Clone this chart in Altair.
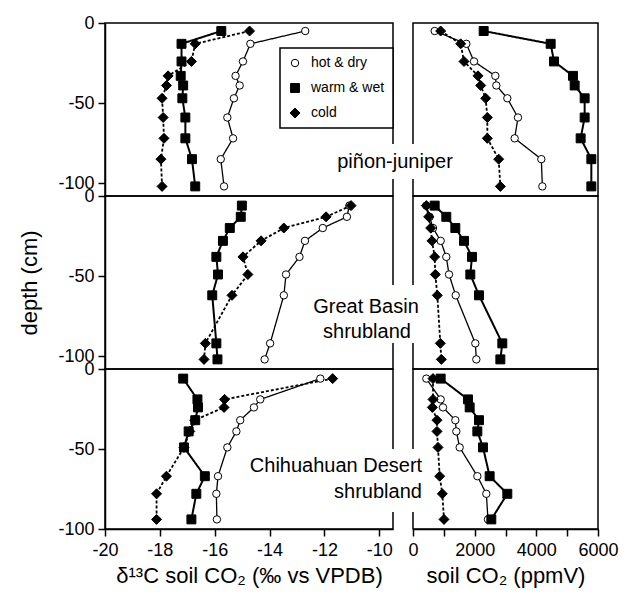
import altair as alt
import pandas as pd

SERIES = ["hot & dry", "warm & wet", "cold"]

# piñon-juniper
pj_depth = [-5, -13, -24, -33, -39, -47, -59, -72, -85, -102]
pj_d13c_hot = [-12.7, -14.7, -14.97, -15.24, -15.09, -15.3, -15.54, -15.33, -15.78, -15.66]
pj_d13c_warm = [-15.76, -17.21, -17.21, -17.24, -17.15, -17.18, -17.07, -17.07, -16.83, -16.71]
pj_d13c_cold = [-14.73, -16.71, -16.85, -17.70, -17.76, -17.92, -17.88, -17.85, -17.96, -17.92]
pj_co2_hot = [703, 1730, 1978, 2670, 2703, 3059, 3405, 3297, 4162, 4195]
pj_co2_warm = [2292, 4465, 4573, 5189, 5243, 5567, 5567, 5437, 5784, 5784]
pj_co2_cold = [897, 1546, 1654, 2108, 2195, 2357, 2411, 2411, 2779, 2833]

# Great Basin shrubland
gb_depth = [-6, -13, -20, -28, -38, -49, -62, -92, -102]
gb_d13c_hot = [-11.09, -11.18, -12.06, -12.71, -12.91, -13.40, -13.48, -13.98, -14.18]
gb_d13c_warm = [-15.01, -15.05, -15.45, -15.70, -15.94, -15.88, -16.09, -15.94, -15.90]
gb_d13c_cold = [-11.03, -11.94, -13.48, -14.31, -14.97, -14.79, -15.37, -16.34, -16.39]
gb_co2_hot = [432, 541, 649, 897, 1080, 1168, 1385, 2021, 2054]
gb_co2_warm = [703, 1080, 1373, 1654, 1913, 1859, 2140, 2897, 2833]
gb_co2_cold = [432, 508, 573, 616, 703, 724, 789, 886, 919]

# Chihuahuan Desert shrubland
cd_depth = [-6, -19, -24, -32, -39, -49, -67, -78, -94]
cd_d13c_hot = [-12.15, -14.34, -14.57, -15.07, -15.21, -15.54, -15.88, -15.94, -15.92]
cd_d13c_warm = [-17.15, -16.63, -16.61, -16.71, -16.95, -17.12, -16.36, -16.67, -16.85]
cd_d13c_cold = [-11.70, -15.64, -15.66, -16.73, -16.91, -17.12, -17.76, -18.12, -18.12]
cd_co2_hot = [432, 897, 973, 1373, 1405, 1514, 2087, 2378, 2432]
cd_co2_warm = [897, 1784, 1838, 2140, 2087, 2270, 2486, 3059, 2540]
cd_co2_cold = [649, 649, 627, 778, 778, 811, 865, 951, 1005]

FONT = "Liberation Sans"
LINE_STYLE = {"hot & dry": ([1, 0], 1.3), "warm & wet": ([1, 0], 2.0), "cold": ([3, 2], 1.8)}


def make_df(depth, hot, warm, cold):
    rows = []
    for name, vals in zip(SERIES, [hot, warm, cold]):
        for i, (d, v) in enumerate(zip(depth, vals)):
            rows.append({"series": name, "depth": d, "value": v, "idx": i})
    return pd.DataFrame(rows)


legend = alt.Legend(
    title=None, orient="none", legendX=175, legendY=25,
    strokeColor="black", padding=8, fillColor="white",
    labelFont=FONT, labelFontSize=14, labelColor="black", labelOffset=9,
    rowPadding=11, symbolStrokeColor="black", symbolStrokeWidth=1,
)

minus_expr = "datum.value < 0 ? '-' + abs(datum.value) : '' + datum.value"


def panel(df, kind, ydomain, height, yaxis, xaxis, labels=None, gap=None):
    if kind == "d13c":
        xscale = alt.Scale(domain=[-20, -9.5], nice=False, zero=False)
        width = 288
    else:
        xscale = alt.Scale(domain=[0, 6000], nice=False, zero=False)
        width = 185
    yscale = alt.Scale(domain=ydomain, nice=False, zero=False)
    base = alt.Chart(df)
    x = alt.X("value:Q", scale=xscale, axis=xaxis)
    y = alt.Y("depth:Q", scale=yscale, axis=yaxis)
    layers = []
    for s in SERIES:
        dash, sw = LINE_STYLE[s]
        layers.append(base.transform_filter(alt.datum.series == s).mark_line(
            color="black", strokeDash=dash, strokeWidth=sw).encode(x=x, y=y, order="idx:Q"))
    points = base.mark_point(filled=True, stroke="black", strokeWidth=1, opacity=1).encode(
        x=x, y=y,
        shape=alt.Shape("series:N", scale=alt.Scale(domain=SERIES, range=["circle", "square", "diamond"]), legend=legend),
        fill=alt.Fill("series:N", scale=alt.Scale(domain=SERIES, range=["white", "black", "black"]), legend=legend),
        stroke=alt.Stroke("series:N", scale=alt.Scale(domain=SERIES, range=["black", "black", "black"]), legend=legend),
        size=alt.Size("series:N", scale=alt.Scale(type="ordinal", domain=SERIES, range=[55, 80, 100]), legend=legend),
    )
    layers.append(points)
    if gap is not None:
        layers.append(alt.Chart(alt.Data(values=[{}])).mark_rect(color="white").encode(
            x=alt.value(-22), x2=alt.value(2), y=alt.value(gap[0]), y2=alt.value(gap[1])))
    if labels:
        for txt, lx, ly in labels:
            layers.append(alt.Chart(alt.Data(values=[{}])).mark_text(
                text=txt, font=FONT, fontSize=20, color="black", align="center", baseline="alphabetic"
            ).encode(x=alt.value(lx), y=alt.value(ly)))
    return alt.layer(*layers).properties(width=width, height=height)


def yaxis_left(title=None):
    kw = dict(values=[0, -50, -100], labelExpr=minus_expr, grid=False, tickSize=7,
              labelPadding=4, labelFontSize=18, labelFont=FONT, labelColor="black")
    if title:
        kw.update(title=title, titleFontSize=22, titleFont=FONT, titleFontWeight="normal",
                  titlePadding=16, titleColor="black")
    else:
        kw.update(title=None)
    return alt.Axis(**kw)


xaxis_d13c = alt.Axis(values=[-20, -18, -16, -14, -12, -10], labelExpr=minus_expr, grid=False,
                      tickSize=7, labelPadding=5, labelFontSize=18, labelFont=FONT, labelColor="black",
                      labelFlush=False, title="δ¹³C soil CO₂ (‰ vs VPDB)", titleFontSize=22,
                      titleFont=FONT, titleFontWeight="normal", titlePadding=6, titleColor="black")
xaxis_co2 = alt.Axis(values=[0, 1000, 2000, 3000, 4000, 5000, 6000],
                     labelExpr="datum.value % 2000 == 0 ? '' + datum.value : ''", grid=False,
                     tickSize=7, labelPadding=5, labelFontSize=18, labelFont=FONT, labelColor="black",
                     labelFlush=False, title="soil CO₂ (ppmV)", titleFontSize=22,
                     titleFont=FONT, titleFontWeight="normal", titlePadding=6, titleColor="black")

H_TOP = 173
H_BOT = 160

pj_l = panel(make_df(pj_depth, pj_d13c_hot, pj_d13c_warm, pj_d13c_cold), "d13c", [-108, 0], H_TOP,
             yaxis_left(), None)
pj_r = panel(make_df(pj_depth, pj_co2_hot, pj_co2_warm, pj_co2_cold), "co2", [-108, 0], H_TOP,
             None, None, labels=[("piñon-juniper", -18, 145)], gap=(121, 156))
gb_l = panel(make_df(gb_depth, gb_d13c_hot, gb_d13c_warm, gb_d13c_cold), "d13c", [-108, 0], H_TOP,
             yaxis_left("depth (cm)"), None)
gb_r = panel(make_df(gb_depth, gb_co2_hot, gb_co2_warm, gb_co2_cold), "co2", [-108, 0], H_TOP,
             None, None, labels=[("Great Basin", -47, 117), ("shrubland", -46, 142)], gap=(89, 147))
cd_l = panel(make_df(cd_depth, cd_d13c_hot, cd_d13c_warm, cd_d13c_cold), "d13c", [-100, 0], H_BOT,
             yaxis_left(), xaxis_d13c)
cd_r = panel(make_df(cd_depth, cd_co2_hot, cd_co2_warm, cd_co2_cold), "co2", [-100, 0], H_BOT,
             None, xaxis_co2, labels=[("Chihuahuan Desert", -77, 103), ("shrubland", -35, 129)], gap=(80, 143))

chart = alt.concat(pj_l, pj_r, gb_l, gb_r, cd_l, cd_r, columns=2,
                   spacing={"row": 0, "column": 20}, bounds="flush", align="each").properties(
    padding={"left": 10, "top": 5, "right": 5, "bottom": 5}
).configure(font=FONT, background="white").configure_view(
    stroke="black", strokeWidth=1.5
).configure_axis(
    domainColor="black", domainWidth=1.5, tickColor="black", tickWidth=1.5
).configure_legend(strokeWidth=1.5)

chart.save("out.html", embed_options={"renderer": "svg", "actions": False})
